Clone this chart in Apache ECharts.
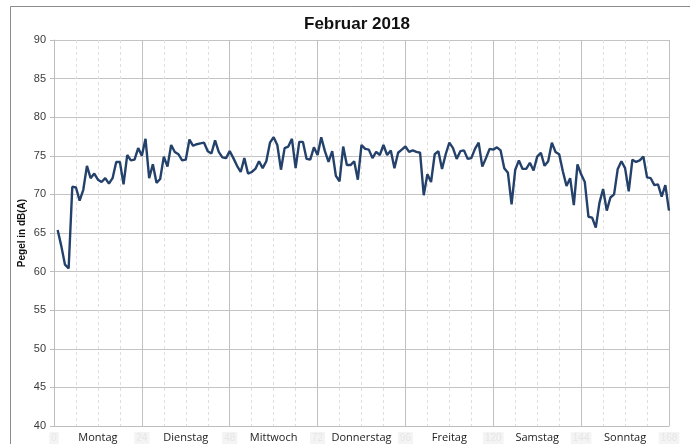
<!DOCTYPE html>
<html>
<head>
<meta charset="utf-8">
<script src="https://cdn.jsdelivr.net/npm/echarts@6/dist/echarts.min.js"></script>
<title>Februar 2018</title>
</head>
<body style="margin:0;background:#fff">
<div id="main" style="width:690px;height:444px;"></div>
<script type="text/javascript">

var days = ['Montag', 'Dienstag', 'Mittwoch', 'Donnerstag', 'Freitag', 'Samstag', 'Sonntag'];

// Stundenwerte Pegel in dB(A), Stunde 1..168
var montag = [65.4, 63.3, 60.9, 60.4, 71.0, 70.9, 69.2, 70.6, 73.7, 72.1, 72.7, 71.9,
              71.6, 72.1, 71.4, 72.1, 74.2, 74.2, 71.3, 75.1, 74.4, 74.5, 76.0, 75.0];
var dienstag = [77.2, 72.1, 73.9, 71.5, 72.0, 74.9, 73.6, 76.4, 75.5, 75.2, 74.4, 74.5,
                77.1, 76.3, 76.5, 76.6, 76.7, 75.6, 75.3, 77.0, 75.5, 74.8, 74.7, 75.6];
var mittwoch = [74.7, 73.7, 72.9, 74.7, 72.7, 72.9, 73.3, 74.3, 73.4, 74.3, 76.7, 77.4,
                76.4, 73.2, 76.0, 76.2, 77.2, 73.4, 76.8, 76.8, 74.6, 74.5, 76.1, 75.1];
var donnerstag = [77.4, 75.6, 74.2, 75.6, 72.4, 71.7, 76.2, 73.8, 73.8, 74.3, 71.9, 76.4,
                  75.9, 75.8, 74.7, 75.5, 75.1, 76.4, 75.1, 75.7, 73.4, 75.4, 75.8, 76.2];
var freitag = [75.5, 75.7, 75.5, 75.4, 69.9, 72.6, 71.6, 75.2, 75.6, 73.3, 75.2, 76.7,
               76.0, 74.6, 75.6, 75.7, 74.6, 74.7, 75.9, 76.7, 73.6, 74.7, 75.9, 75.8];
var samstag = [76.1, 75.7, 73.4, 72.8, 68.7, 73.2, 74.4, 73.3, 73.3, 74.1, 73.1, 74.9,
               75.4, 73.7, 74.3, 76.7, 75.5, 75.2, 73.0, 71.1, 72.1, 68.6, 73.9, 72.6];
var sonntag = [71.6, 67.1, 67.0, 65.7, 68.9, 70.7, 67.9, 69.6, 70.0, 73.3, 74.3, 73.4,
               70.4, 74.5, 74.2, 74.4, 74.9, 72.2, 72.1, 71.2, 71.3, 69.7, 71.2, 67.9];

var pegel = montag.concat(dienstag, mittwoch, donnerstag, freitag, samstag, sonntag);

var data = [];
for (var i = 0; i < pegel.length; i++) {
    data.push([i + 1, pegel[i]]);
}

var myChart = echarts.init(document.getElementById('main'));

var option = {
    animation: false,
    backgroundColor: '#fff',
    graphic: [{
        type: 'rect',
        shape: { x: 10.5, y: 6.5, width: 720, height: 480 },
        style: { fill: 'none', stroke: '#8c8c8c', lineWidth: 1 },
        silent: true
    }],
    title: {
        text: 'Februar 2018',
        left: 299,
        top: 11,
        textStyle: {
            fontFamily: 'Liberation Sans',
            fontSize: 17,
            fontWeight: 'bold',
            color: '#111'
        }
    },
    grid: {
        left: 54,
        right: 21,
        top: 40,
        bottom: 16
    },
    xAxis: [{
        type: 'value',
        min: 0,
        max: 168,
        interval: 24,
        axisLine: { show: true, lineStyle: { color: '#bdbdbd' } },
        axisTick: { show: false },
        axisLabel: {
            margin: 6,
            fontSize: 10,
            color: '#e6e6e6',
            backgroundColor: '#f4f4f4',
            padding: [1, 2],
            fontFamily: 'Liberation Sans'
        },
        splitLine: { show: true, lineStyle: { color: '#c0c0c0', width: 1 } },
        minorTick: { show: false, splitNumber: 4 },
        minorSplitLine: { show: true, lineStyle: { color: '#dedede', type: [3, 3], width: 1 } }
    }, {
        type: 'category',
        data: days,
        position: 'bottom',
        boundaryGap: true,
        axisLine: { show: false },
        axisTick: { show: false },
        splitLine: { show: false },
        axisLabel: {
            margin: 6,
            fontSize: 11,
            color: '#222',
            fontFamily: 'Open Sans'
        }
    }],
    yAxis: {
        type: 'value',
        min: 40,
        max: 90,
        interval: 5,
        name: 'Pegel in dB(A)',
        nameLocation: 'middle',
        nameGap: 27,
        nameMoveOverlap: false,
        nameTextStyle: {
            fontFamily: 'Liberation Sans',
            fontSize: 10,
            fontWeight: 'bold',
            color: '#111'
        },
        axisLine: { show: true, lineStyle: { color: '#bdbdbd' } },
        axisTick: { show: true, length: 4, lineStyle: { color: '#bdbdbd' } },
        axisLabel: {
            margin: 8,
            fontSize: 11,
            color: '#3a3a3a',
            fontFamily: 'Liberation Sans'
        },
        splitLine: { show: true, lineStyle: { color: '#c4c4c4', width: 1 } }
    },
    series: [{
        name: 'Pegel',
        type: 'line',
        xAxisIndex: 0,
        showSymbol: false,
        symbol: 'none',
        lineStyle: { color: '#23416a', width: 2.4 },
        data: data
    }]
};
myChart.setOption(option);

</script>
</body>
</html>
